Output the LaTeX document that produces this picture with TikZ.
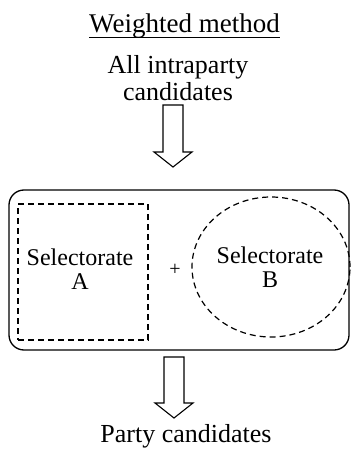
\documentclass[tikz,border=0pt]{standalone}
\usepackage{fontspec}
\setmainfont{Liberation Serif}
\usepackage{tikz}
\usetikzlibrary{calc, shapes.geometric}

\tikzset{
  lbl/.style={inner sep=0pt, align=center},
  dashbox/.style={draw, line width=1.2pt, dash pattern=on 6pt off 4pt},
  hollow/.style={draw, line width=1.1pt, line join=miter, fill=white},
}
% hollow block arrow from a top point down to a tip
\newcommand{\blockarrow}[2]{%
  \draw [hollow] ($(#1)+(-10,0)$) -- ($(#2)+(-10,-15)$) -- ($(#2)+(-19,-15)$) -- (#2)
    -- ($(#2)+(19,-15)$) -- ($(#2)+(10,-15)$) -- ($(#1)+(10,0)$) -- cycle;}

\begin{document}
\begin{tikzpicture}[x=1pt, y=-1pt]
          \useasboundingbox (0,0) rectangle (351,449);

          \node [lbl, anchor=base, font=\fontsize{27}{27}\selectfont] (title) at (184.5,33) {Weighted method}; % heading
          \draw [line width=1pt] ($(title.base west)+(0,5)$) -- ($(title.base east)+(0,5)$); % underline

          \node [lbl, anchor=north, font=\fontsize{26}{27}\selectfont] (input) at (178,55) {All intraparty\\candidates};

          \node [draw, line width=1.3pt, rounded corners=15pt, minimum width=340pt, minimum height=160pt] (pool) at (179,270) {};
          \node [dashbox, minimum width=130pt, minimum height=136pt] (selA) at (83,272) {};
          \node [lbl, font=\fontsize{24}{24}\selectfont] (txtA) at (80,269) {Selectorate\\A};
          \node [lbl, font=\fontsize{20}{20}\selectfont] (plus) at (175,270) {+};
          \node [dashbox, ellipse, minimum width=158pt, minimum height=140pt] (selB) at (271,267) {};
          \node [lbl, font=\fontsize{24}{24}\selectfont] (txtB) at (270,267) {Selectorate\\B};

          \node [lbl, anchor=base, font=\fontsize{26}{26}\selectfont] (output) at (186,442) {Party candidates};

          \coordinate (inTop) at (173,105);
          \coordinate (inTip) at (173,167);
          \coordinate (outTop) at (174,357);
          \coordinate (outTip) at (174,418);

          \blockarrow{inTop}{inTip}
          \blockarrow{outTop}{outTip}
        \end{tikzpicture}
\end{document}
